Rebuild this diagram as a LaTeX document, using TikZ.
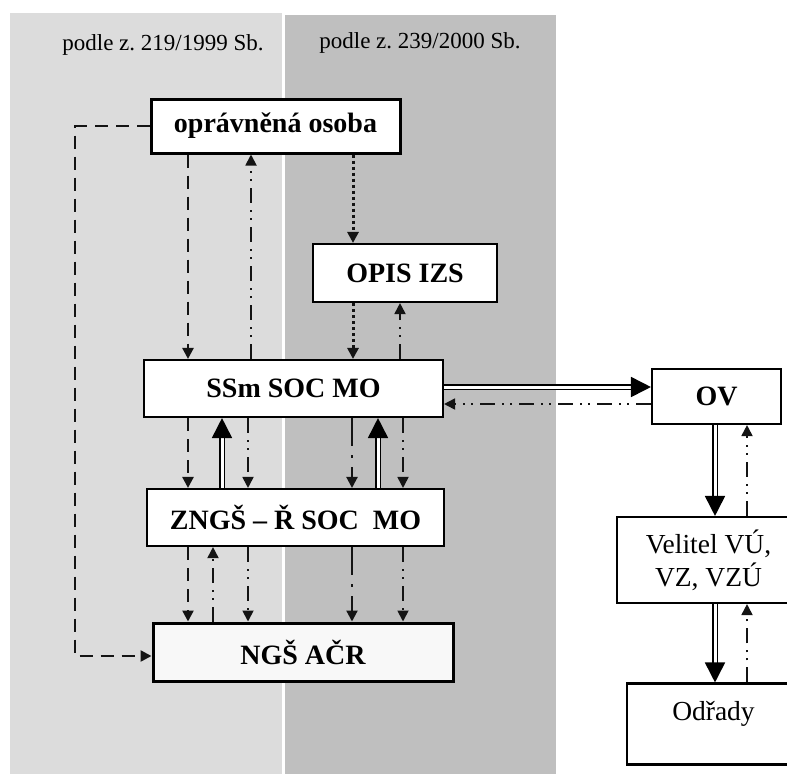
\documentclass[tikz,border=0pt]{standalone}
\usepackage{fontspec}
\setmainfont{Liberation Serif}
\usetikzlibrary{arrows.meta}
\definecolor{panelA}{HTML}{DCDCDC}
\definecolor{panelB}{HTML}{BFBFBF}
\definecolor{ngsfill}{HTML}{F8F8F8}
\definecolor{lnc}{HTML}{141414}
\frenchspacing
\begin{document}
\begin{tikzpicture}[x=1pt,y=-1pt,
  box/.style={draw=black, line width=2.1pt, fill=white, inner sep=0pt, align=center,
    font=\fontsize{28}{32}\selectfont\bfseries},
  thickbox/.style={box, line width=3pt},
  plainbox/.style={box, font=\fontsize{27.5}{33}\selectfont},
  head/.style={font=\fontsize{23}{26}\selectfont, inner sep=0pt},
  conn/.style={draw=lnc, line width=1.8pt, -{Triangle[length=11pt,width=11pt]}},
  dashln/.style={conn, line width=2.4pt, dash pattern=on 13pt off 8pt},
  dotln/.style={conn, line width=3pt, dash pattern=on 3pt off 3pt},
  dddln/.style={conn, dash pattern=on 15pt off 7pt on 2pt off 6pt on 2pt off 7pt},
  ddln/.style={conn, line width=2.2pt, dash pattern=on 28pt off 9pt on 3pt off 9pt},
  dblln/.style={draw=black, line width=1.7pt, double=white, double distance=3pt,
    -{Triangle[length=20pt,width=20pt]}}
]
\useasboundingbox (0,0) rectangle (787,774);
% panels
\fill[panelA] (10,13) rectangle (282,774);
\fill[panelB] (285,15) rectangle (556,774);
\node[head] (h1) at (163,45) {podle z. 219/1999 Sb.};
\node[head] (h2) at (420,43) {podle z. 239/2000 Sb.};
% boxes
\node[thickbox, minimum width=249pt, minimum height=54pt] (opr) at (275.5,126) {oprávněná osoba};
\node[box, minimum width=184pt, minimum height=58pt] (opis) at (405,273) {OPIS IZS};
\node[box, minimum width=299pt, minimum height=57pt] (ssm) at (293.5,388.5) {SSm SOC MO};
\node[box, minimum width=297pt, minimum height=57pt] (zngs) at (295.5,517.5) {ZNGŠ – Ř SOC\ \ MO};
\node[thickbox, fill=ngsfill, minimum width=300pt, minimum height=58pt] (ngs) at (303,652) {NGŠ AČR};
\node[box, minimum width=129pt, minimum height=55pt] (ov) at (716.5,396.5) {OV};
\node[plainbox, minimum width=183pt, minimum height=86pt] (vel) at (708.5,560) {Velitel VÚ,\\VZ, VZÚ};
\node[plainbox, minimum width=173pt, text height=37pt, text depth=44pt] (odr) at (713.5,724) {Odřady};
% column coordinates
\coordinate (xa) at (188,0);
\coordinate (xb) at (251,0);
\coordinate (xc) at (353,0);
\coordinate (xd) at (400,0);
\coordinate (xe) at (222,0);
\coordinate (xf) at (248,0);
\coordinate (xg) at (352,0);
\coordinate (xh) at (378,0);
\coordinate (xi) at (403,0);
\coordinate (xj) at (213,0);
\coordinate (xk) at (715,0);
\coordinate (xl) at (747,0);
\coordinate (ya) at (0,387);
\coordinate (yb) at (0,404);
\coordinate (c1) at (75,126);
\coordinate (c2) at (75,656);
% left loop
\draw[dashln] (opr.west) -- (c1) -- (c2) -- (c2 -| ngs.west);
% opr <-> ssm
\draw[dashln] (opr.south -| xa) -- (ssm.north -| xa);
\draw[dddln] (ssm.north -| xb) -- (opr.south -| xb);
% opr -> opis -> ssm
\draw[dotln] (opr.south -| xc) -- (opis.north -| xc);
\draw[dotln] (opis.south -| xc) -- (ssm.north -| xc);
\draw[dddln] (ssm.north -| xd) -- (opis.south -| xd);
% ssm <-> zngs
\draw[dashln] (ssm.south -| xa) -- (zngs.north -| xa);
\draw[dblln] (zngs.north -| xe) -- (ssm.south -| xe);
\draw[dddln] (ssm.south -| xf) -- (zngs.north -| xf);
\draw[ddln] (ssm.south -| xg) -- (zngs.north -| xg);
\draw[dblln] (zngs.north -| xh) -- (ssm.south -| xh);
\draw[dddln] (ssm.south -| xi) -- (zngs.north -| xi);
% zngs <-> ngs
\draw[dashln] (zngs.south -| xa) -- (ngs.north -| xa);
\draw[dddln] (ngs.north -| xj) -- (zngs.south -| xj);
\draw[dddln] (zngs.south -| xf) -- (ngs.north -| xf);
\draw[ddln] (zngs.south -| xg) -- (ngs.north -| xg);
\draw[dddln] (zngs.south -| xi) -- (ngs.north -| xi);
% ssm <-> ov
\draw[dblln] (ssm.east |- ya) -- (ov.west |- ya);
\draw[dddln] (ov.west |- yb) -- (ssm.east |- yb);
% ov <-> vel <-> odr
\draw[dblln] (ov.south -| xk) -- (vel.north -| xk);
\draw[dddln] (vel.north -| xl) -- (ov.south -| xl);
\draw[dblln] (vel.south -| xk) -- (odr.north -| xk);
\draw[dddln] (odr.north -| xl) -- (vel.south -| xl);
\end{tikzpicture}
\end{document}
